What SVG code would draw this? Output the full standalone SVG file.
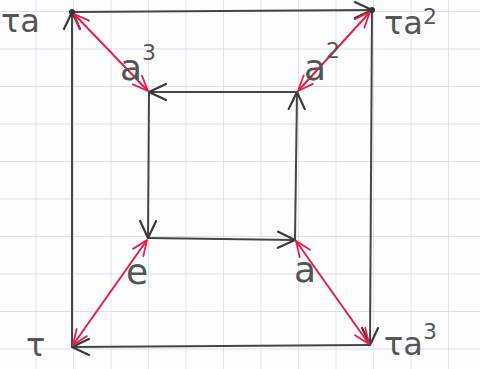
<svg xmlns="http://www.w3.org/2000/svg" width="480" height="369" viewBox="0 0 480 369">
  <defs>
    <pattern id="grid" width="37.5" height="37.5" patternUnits="userSpaceOnUse" x="-2" y="11">
      <path d="M37.5,0 L0,0 L0,37.5" fill="none" stroke="#d4d4f0" stroke-width="1.3"/>
    </pattern>
    <marker id="ak" viewBox="0 0 20 20" refX="19" refY="10" markerWidth="20" markerHeight="20" markerUnits="userSpaceOnUse" orient="auto">
      <path d="M2,2 L19,10 L2,18" fill="none" stroke="#3a3a3a" stroke-width="2.2" stroke-linecap="round" stroke-linejoin="round"/>
    </marker>
    <marker id="ar" viewBox="0 0 20 20" refX="19" refY="10" markerWidth="18" markerHeight="18" markerUnits="userSpaceOnUse" orient="auto-start-reverse">
      <path d="M2,3 L19,10 L2,17" fill="none" stroke="#e0204a" stroke-width="2" stroke-linecap="round" stroke-linejoin="round"/>
    </marker>
  </defs>
  <style>
    .edge { stroke: #454545; stroke-width: 2; fill: none; marker-end: url(#ak); }
    .red { stroke: #e0204a; stroke-width: 2; fill: none; marker-start: url(#ar); marker-end: url(#ar); }
    .lbl { font-family: "DejaVu Sans", "Liberation Sans", sans-serif; fill: #555; font-size: 32px; }
    .in { font-size: 36px; }
    .sup { font-size: 22px; }
  </style>
  <rect x="0" y="0" width="480" height="369" fill="#fdfdff"/>
  <rect x="0" y="0" width="480" height="369" fill="url(#grid)"/>

  <g id="connectors">
    <!-- outer cycle -->
    <line class="edge" x1="72" y1="347" x2="72" y2="12"/>
    <line class="edge" x1="72" y1="12" x2="372" y2="10"/>
    <line class="edge" x1="372" y1="10" x2="370" y2="345"/>
    <line class="edge" x1="370" y1="345" x2="72" y2="347"/>
    <!-- inner cycle -->
    <line class="edge" x1="148" y1="238" x2="295" y2="240"/>
    <line class="edge" x1="295" y1="240" x2="297" y2="92"/>
    <line class="edge" x1="297" y1="92" x2="149" y2="92"/>
    <line class="edge" x1="149" y1="92" x2="148" y2="238"/>
    <!-- red double arrows -->
    <line class="red" x1="74" y1="14" x2="148" y2="91"/>
    <line class="red" x1="370" y1="12" x2="298" y2="91"/>
    <line class="red" x1="147" y1="240" x2="73" y2="345"/>
    <line class="red" x1="296" y1="241" x2="369" y2="344"/>
  </g>

  <g id="n-ta"><circle cx="72" cy="12" r="3" fill="#333"/><text class="lbl" x="1" y="32">τa</text></g>
  <g id="n-ta2"><circle cx="372" cy="10" r="3" fill="#333"/><text class="lbl" x="384" y="34">τa<tspan class="sup" dy="-10">2</tspan></text></g>
  <g id="n-t"><text class="lbl" x="26" y="356">τ</text></g>
  <g id="n-ta3"><text class="lbl" x="384" y="355">τa<tspan class="sup" dy="-16">3</tspan></text></g>
  <g id="n-a3"><text class="lbl in" x="120" y="80">a<tspan class="sup" dy="-20">3</tspan></text></g>
  <g id="n-a2"><text class="lbl in" x="304" y="80">a<tspan class="sup" dy="-22">2</tspan></text></g>
  <g id="n-e"><text class="lbl in" x="126" y="284">e</text></g>
  <g id="n-a"><text class="lbl in" x="294" y="282">a</text></g>
</svg>
